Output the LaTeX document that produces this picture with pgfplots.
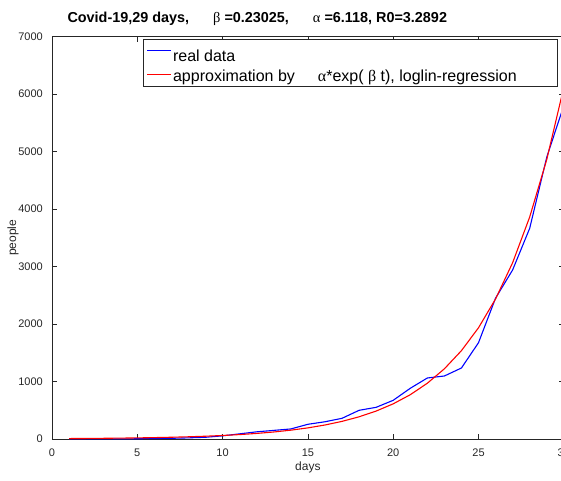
\documentclass[border=0pt]{standalone}
\usepackage{pgfplots}
\pgfplotsset{compat=1.18}
\usepackage{fontspec}
\setmainfont{Liberation Sans}
\newfontfamily\grk{Liberation Serif}
\definecolor{axc}{rgb}{0.15,0.15,0.15}
\begin{document}
\begin{tikzpicture}
\begin{axis}[
  at={(0,0)}, anchor=south west,
  scale only axis, width=511.8pt, height=402.5pt,
  xmin=0, xmax=30, ymin=0, ymax=7000,
  xtick={0,5,...,30}, ytick={0,1000,...,7000},
  tick align=inside, major tick length=5pt,
  axis line style={axc, line width=0.8pt},
  every tick/.style={axc, line width=0.8pt},
  tick label style={font=\fontsize{11}{13}\selectfont, text=axc},
  /pgf/number format/assume math mode=true,
  /pgf/number format/set thousands separator={},
  scaled y ticks=false,
  xticklabel style={inner sep=0pt, anchor=north, yshift=-10pt},
  yticklabel style={inner sep=0pt, anchor=east, xshift=-9pt},
  xlabel={days}, ylabel={people},
  xlabel style={at={(axis description cs:0.5,-0.0696)}, anchor=center, font=\fontsize{12}{14}\selectfont, text=axc},
  ylabel style={at={(axis description cs:-0.0762,0.5)}, anchor=center, font=\fontsize{12}{14}\selectfont, text=axc},
  legend cell align=left,
  legend style={at={(0.1778,0.9938)}, anchor=north west, draw=axc, line width=0.8pt, fill=white,
    inner xsep=3.3pt, inner ysep=1.7pt, row sep=4pt, column sep=2pt,
    nodes={inner sep=0pt, text depth=4pt, anchor=base west, font=\fontsize{16}{19}\selectfont}},
]
\addplot[blue, line width=1.1pt, legend image code/.code={\draw[blue, line width=1pt] (0pt,11pt) -- (23.4pt,11pt);}] coordinates {
(1,1) (2,1) (3,2) (4,2) (5,4) (6,8) (7,12) (8,20) (9,30) (10,55)
(11,90) (12,125) (13,150) (14,175) (15,256) (16,300) (17,360) (18,499) (19,551) (20,673)
(21,882) (22,1061) (23,1096) (24,1235) (25,1675) (26,2450) (27,2940) (28,3664) (29,4900) (30,5800)
};
\addlegendentry{\rule{0pt}{20pt}real data}
\addplot[red, line width=1.1pt, legend image code/.code={\draw[red, line width=1pt] (0pt,6.5pt) -- (23.4pt,6.5pt);}] coordinates {
(1,7.70) (2,9.70) (3,12.21) (4,15.37) (5,19.35) (6,24.36) (7,30.66) (8,38.60) (9,48.60) (10,61.13)
(11,77.02) (12,96.97) (13,122.07) (14,153.68) (15,193.47) (16,243.56) (17,306.63) (18,386.03) (19,485.98) (20,611.8)
(21,770.2) (22,969.7) (23,1220.7) (24,1536.8) (25,1934.7) (26,2435.6) (27,3066.3) (28,3860.3) (29,4859.8) (30,6116.5)
};
\addlegendentry{\rule{0pt}{12pt}approximation by\hspace{23pt}{\grk α}*exp( {\grk β} t), loglin-regression\hspace*{37pt}}
\end{axis}
\node[anchor=base west, font=\fontsize{14.4}{17}\selectfont\bfseries, text=black] at (12pt,416pt)
  {Covid-19,29 days,\hspace{24pt}{\grk\mdseries β} =0.23025,\hspace{24pt}{\grk\mdseries α} =6.118, R0=3.2892};
\pgfresetboundingbox
\useasboundingbox (-52pt,-41pt) rectangle (509pt,439pt);
\end{tikzpicture}
\end{document}
